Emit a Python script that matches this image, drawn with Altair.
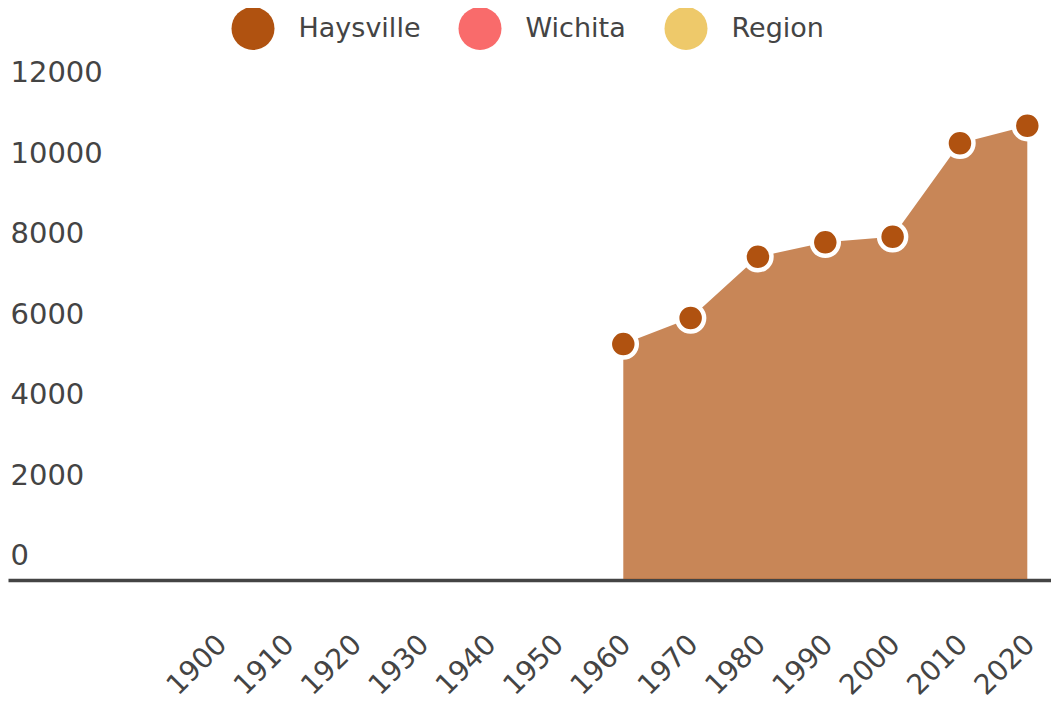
import altair as alt
import pandas as pd

years = [1960, 1970, 1980, 1990, 2000, 2010, 2020]
population = [5836, 6483, 8006, 8364, 8502, 10826, 11262]
series_names = ["Haysville", "Wichita", "Region"]
series_colors = ["#B05210", "#F96B6B", "#EEC96A"]
x_ticks = list(range(1900, 2021, 10))
y_ticks = [0, 2000, 4000, 6000, 8000, 10000, 12000]

df = pd.DataFrame({"year": years, "population": population,
                   "series": [series_names[0]] * len(years)})

FONT = "DejaVu Sans"
TEXT = "#444444"

x = alt.X(
    "year:Q",
    scale=alt.Scale(domain=[1868.62, 2023.52], nice=False, zero=False),
    axis=alt.Axis(
        values=x_ticks, format="d", labelAngle=-45, labelAlign="right",
        labelBaseline="top", labelPadding=50, labelOffset=-7, labelFontSize=28,
        labelFont=FONT, labelColor=TEXT, ticks=False, tickSize=0,
        domainColor="#444444", domainWidth=3.5, offset=1, grid=False,
        title=None, labelOverlap=False, labelFlush=False,
    ),
)
y = alt.Y(
    "population:Q",
    scale=alt.Scale(domain=[0, 12000], nice=False),
    axis=alt.Axis(
        values=y_ticks, format="d", labelAlign="left", labelBaseline="alphabetic",
        labelOffset=-14.5, labelPadding=-2, ticks=False, tickSize=0, domain=False,
        grid=False, title=None, labelFontSize=29, labelFont=FONT,
        labelColor=TEXT, labelOverlap=False, labelFlush=False,
    ),
)

area = alt.Chart(df).mark_area(color=series_colors[0], opacity=0.7).encode(x=x, y=y)

points = alt.Chart(df).mark_circle(
    size=729, opacity=1, stroke="white", strokeWidth=4.5
).encode(
    x=x,
    y=y,
    color=alt.Color(
        "series:N",
        scale=alt.Scale(domain=series_names, range=series_colors),
        legend=alt.Legend(
            orient="none", legendX=223.5, legendY=-89, direction="horizontal",
            title=None, symbolType="circle", symbolSize=1849,
            symbolStrokeWidth=0, symbolOpacity=1, labelFontSize=27,
            labelFont=FONT, labelColor=TEXT, labelOffset=24, columnPadding=38,
            padding=0, labelLimit=400,
        ),
    ),
)

chart = (
    alt.layer(area, points)
    .properties(
        width=1043,
        height=483,
        autosize=alt.AutoSizeParams(type="none"),
        padding={"left": 0, "top": 88, "right": 0, "bottom": 124},
    )
    .configure_view(stroke=None)
)

chart.save("out.html", embed_options={"renderer": "svg", "actions": False})
